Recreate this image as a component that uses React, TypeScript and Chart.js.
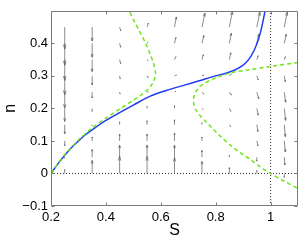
import React, { useEffect, useRef } from 'react';
import { Chart, registerables } from 'chart.js';

Chart.register(...registerables);

const xTicks = [0.2, 0.4, 0.6, 0.8, 1];
const yTicks = [-0.1, 0, 0.1, 0.2, 0.3, 0.4];

// trajectory (blue)
const blueS = [0.2, 0.21, 0.221, 0.235, 0.25, 0.275, 0.3, 0.33, 0.36, 0.4, 0.45, 0.5, 0.56, 0.62, 0.68, 0.74, 0.8, 0.84, 0.87, 0.9, 0.92, 0.94, 0.955, 0.965, 0.973, 0.98];
const blueN = [0, 0.012, 0.025, 0.04, 0.056, 0.08, 0.1, 0.122, 0.14, 0.163, 0.187, 0.21, 0.237, 0.255, 0.27, 0.285, 0.3, 0.309, 0.318, 0.333, 0.35, 0.378, 0.41, 0.44, 0.47, 0.5];

// nullcline 1 (green dashed, left)
const null1S = [0.2, 0.225, 0.25, 0.3, 0.35, 0.4, 0.45, 0.5, 0.53, 0.555, 0.572, 0.58, 0.58, 0.573, 0.56, 0.545, 0.524, 0.505, 0.485];
const null1N = [0, 0.03, 0.058, 0.103, 0.14, 0.17, 0.198, 0.225, 0.242, 0.26, 0.28, 0.3, 0.315, 0.34, 0.37, 0.4, 0.435, 0.465, 0.5];

// nullcline 2 (green dashed, right)
const null2S = [1.1, 1.0, 0.925, 0.864, 0.804, 0.755, 0.731, 0.72, 0.72, 0.728, 0.743, 0.761, 0.79, 0.82, 0.852, 0.89, 0.925, 0.96, 1.0, 1.05, 1.1];
const null2N = [0.341, 0.329, 0.319, 0.311, 0.295, 0.275, 0.255, 0.232, 0.215, 0.195, 0.178, 0.162, 0.137, 0.112, 0.088, 0.063, 0.044, 0.022, 0, -0.024, -0.046];

// reference dotted lines
const zeroLineS = [0.2, 1.1];
const zeroLineN = [0, 0];
const unitLineS = [1, 1];
const unitLineN = [-0.1, 0.5];

// quiver grid
const gridS = [0.25, 0.35, 0.45, 0.55, 0.65, 0.75, 0.85, 0.95, 1.05];
const gridN = [0, 0.05, 0.1, 0.15, 0.2, 0.25, 0.3, 0.35, 0.4, 0.45];

// plotted arrow components (rows follow gridN, columns follow gridS)
const quiverU = [
  [0, 0, 0, 0, 0, 0, 0, 0, 0],
  [0, 0, 0, 0, 0, 0, 0, 0, 0.002],
  [0, 0, 0, 0, 0, 0, 0, 0.004, 0.004],
  [0, 0, 0, 0, 0, 0, 0.004, 0.004, 0.004],
  [0, 0, 0, 0, 0, 0.004, 0.005, 0.005, 0.005],
  [0, 0, 0.002, 0.004, 0.005, 0.007, 0.007, 0.007, 0.005],
  [0, 0, 0.002, 0.004, 0.007, 0.007, 0.007, 0.005, 0.004],
  [0, 0, 0.004, 0.004, 0.005, 0.005, 0.005, 0.005, 0.004],
  [0, 0, 0.004, 0.004, 0.005, 0.007, 0.007, 0.007, 0.007],
  [0, 0, 0.004, 0.005, 0.007, 0.011, 0.011, 0.011, 0.011],
];
const quiverV = [
  [0.012, 0.04, 0.052, 0.052, 0.049, 0.037, 0.018, 0.009, -0.012],
  [-0.003, 0.024, 0.037, 0.037, 0.037, 0.021, 0.006, -0.012, -0.024],
  [-0.015, 0.012, 0.021, 0.021, 0.024, 0.012, 0, -0.015, -0.034],
  [-0.028, -0.003, 0.009, 0.012, 0.015, 0.006, -0.006, -0.021, -0.037],
  [-0.04, -0.009, 0, 0.006, 0.009, -0.003, -0.009, -0.021, -0.037],
  [-0.049, -0.018, -0.006, 0.001, 0.003, -0.006, -0.009, -0.021, -0.031],
  [-0.058, -0.028, -0.009, -0.006, 0.002, 0.003, 0.006, -0.012, -0.018],
  [-0.064, -0.037, -0.012, -0.003, 0.009, 0.015, 0.021, 0.012, 0.009],
  [-0.067, -0.043, -0.012, 0.003, 0.018, 0.024, 0.031, 0.028, 0.028],
  [-0.067, -0.043, -0.012, 0.012, 0.031, 0.043, 0.049, 0.046, 0.046],
];

const FONT = "'Liberation Sans', Arial, Helvetica, sans-serif";

const toPts = (xs: number[], ys: number[]) => xs.map((x, i) => ({ x, y: ys[i] }));
const fmt = (v: number) => String(Math.round(v * 10) / 10).replace('-', '\u2212');

const quiverPlugin = {
  id: 'quiver',
  beforeDatasetsDraw(chart: any) {
    const { ctx, chartArea } = chart;
    const xs = chart.scales.x;
    const ys = chart.scales.y;
    ctx.save();
    ctx.beginPath();
    ctx.rect(chartArea.left, chartArea.top, chartArea.right - chartArea.left, chartArea.bottom - chartArea.top);
    ctx.clip();
    ctx.strokeStyle = '#5a5a5a';
    ctx.lineWidth = 0.7;
    gridN.forEach((n, i) => {
      gridS.forEach((s, j) => {
        const x0 = xs.getPixelForValue(s);
        const y0 = ys.getPixelForValue(n);
        const x1 = xs.getPixelForValue(s + quiverU[i][j]);
        const y1 = ys.getPixelForValue(n + quiverV[i][j]);
        const dx = x1 - x0;
        const dy = y1 - y0;
        const len = Math.hypot(dx, dy);
        if (len < 0.3) return;
        const a = Math.atan2(dy, dx);
        const h = Math.min(len * 0.25, 4.5);
        const w = 0.3;
        ctx.beginPath();
        ctx.moveTo(x0, y0);
        ctx.lineTo(x1, y1);
        ctx.moveTo(x1 - h * Math.cos(a - w), y1 - h * Math.sin(a - w));
        ctx.lineTo(x1, y1);
        ctx.lineTo(x1 - h * Math.cos(a + w), y1 - h * Math.sin(a + w));
        ctx.stroke();
      });
    });
    ctx.restore();
  },
};

const boxPlugin = {
  id: 'box',
  afterDraw(chart: any) {
    const { ctx, chartArea } = chart;
    const xs = chart.scales.x;
    const ys = chart.scales.y;
    const l = Math.round(chartArea.left) + 0.5;
    const r = Math.round(chartArea.right) - 0.5;
    const t = Math.round(chartArea.top) + 0.5;
    const b = Math.round(chartArea.bottom) - 0.5;
    const tl = 3;
    ctx.save();
    ctx.strokeStyle = '#7a7a7a';
    ctx.lineWidth = 1;
    ctx.beginPath();
    ctx.rect(l, t, r - l, b - t);
    xTicks.forEach((v) => {
      const px = Math.round(xs.getPixelForValue(v)) + 0.5;
      ctx.moveTo(px, b);
      ctx.lineTo(px, b - tl);
      ctx.moveTo(px, t);
      ctx.lineTo(px, t + tl);
    });
    yTicks.forEach((v) => {
      const py = Math.round(ys.getPixelForValue(v)) + 0.5;
      ctx.moveTo(l, py);
      ctx.lineTo(l + tl, py);
      ctx.moveTo(r, py);
      ctx.lineTo(r - tl, py);
    });
    ctx.stroke();
    ctx.restore();
  },
};

export default function App() {
  const ref = useRef<HTMLCanvasElement | null>(null);

  useEffect(() => {
    if (!ref.current) return;
    const green = '#6ee619';
    const chart = new Chart(ref.current, {
      type: 'line',
      data: {
        datasets: [
          {
            data: toPts(null1S, null1N),
            borderColor: green,
            borderWidth: 1.5,
            borderDash: [4, 3],
            pointRadius: 0,
            tension: 0.3,
            fill: false,
          },
          {
            data: toPts(null2S, null2N),
            borderColor: green,
            borderWidth: 1.5,
            borderDash: [4, 3],
            pointRadius: 0,
            tension: 0.3,
            fill: false,
          },
          {
            data: toPts(blueS, blueN),
            borderColor: '#1f3cf5',
            borderWidth: 1.5,
            pointRadius: 0,
            tension: 0.3,
            fill: false,
          },
          {
            data: toPts(zeroLineS, zeroLineN),
            borderColor: '#333',
            borderWidth: 1,
            borderDash: [1, 2],
            pointRadius: 0,
            fill: false,
          },
          {
            data: toPts(unitLineS, unitLineN),
            borderColor: '#333',
            borderWidth: 1,
            borderDash: [1, 2],
            pointRadius: 0,
            fill: false,
          },
        ],
      },
      options: {
        animation: false,
        responsive: false,
        parsing: true,
        layout: { padding: { top: 10, right: 3, left: 0, bottom: 0 } },
        plugins: { legend: { display: false }, tooltip: { enabled: false } },
        scales: {
          x: {
            type: 'linear',
            min: 0.2,
            max: 1.1,
            afterBuildTicks: (s: any) => {
              s.ticks = xTicks.map((v) => ({ value: v }));
            },
            afterFit: (s: any) => {
              s.height = 34;
            },
            grid: { display: false, drawTicks: false },
            border: { display: false },
            ticks: {
              padding: 4,
              color: '#000',
              font: { family: FONT, size: 13 },
              maxRotation: 0,
              autoSkip: false,
              callback: (v: any) => fmt(Number(v)),
            },
            title: {
              display: true,
              text: 'S',
              color: '#000',
              font: { family: FONT, size: 16 },
              padding: { top: 0, bottom: 0 },
            },
          },
          y: {
            type: 'linear',
            min: -0.1,
            max: 0.5,
            afterBuildTicks: (s: any) => {
              s.ticks = yTicks.map((v) => ({ value: v }));
            },
            afterFit: (s: any) => {
              s.width = 51;
            },
            grid: { display: false, drawTicks: false },
            border: { display: false },
            ticks: {
              padding: 3,
              color: '#000',
              font: { family: FONT, size: 13 },
              autoSkip: false,
              callback: (v: any) => fmt(Number(v)),
            },
            title: {
              display: true,
              text: 'n',
              color: '#000',
              font: { family: FONT, size: 16 },
              padding: { top: 1, bottom: 0 },
            },
          },
        },
      },
      plugins: [quiverPlugin, boxPlugin],
    });
    return () => chart.destroy();
  }, []);

  return (
    <div style={{ position: 'fixed', left: 0, top: 0, width: 301, height: 240, background: '#fff' }}>
      <canvas ref={ref} width={301} height={240} style={{ display: 'block', width: 301, height: 240 }} />
    </div>
  );
}
